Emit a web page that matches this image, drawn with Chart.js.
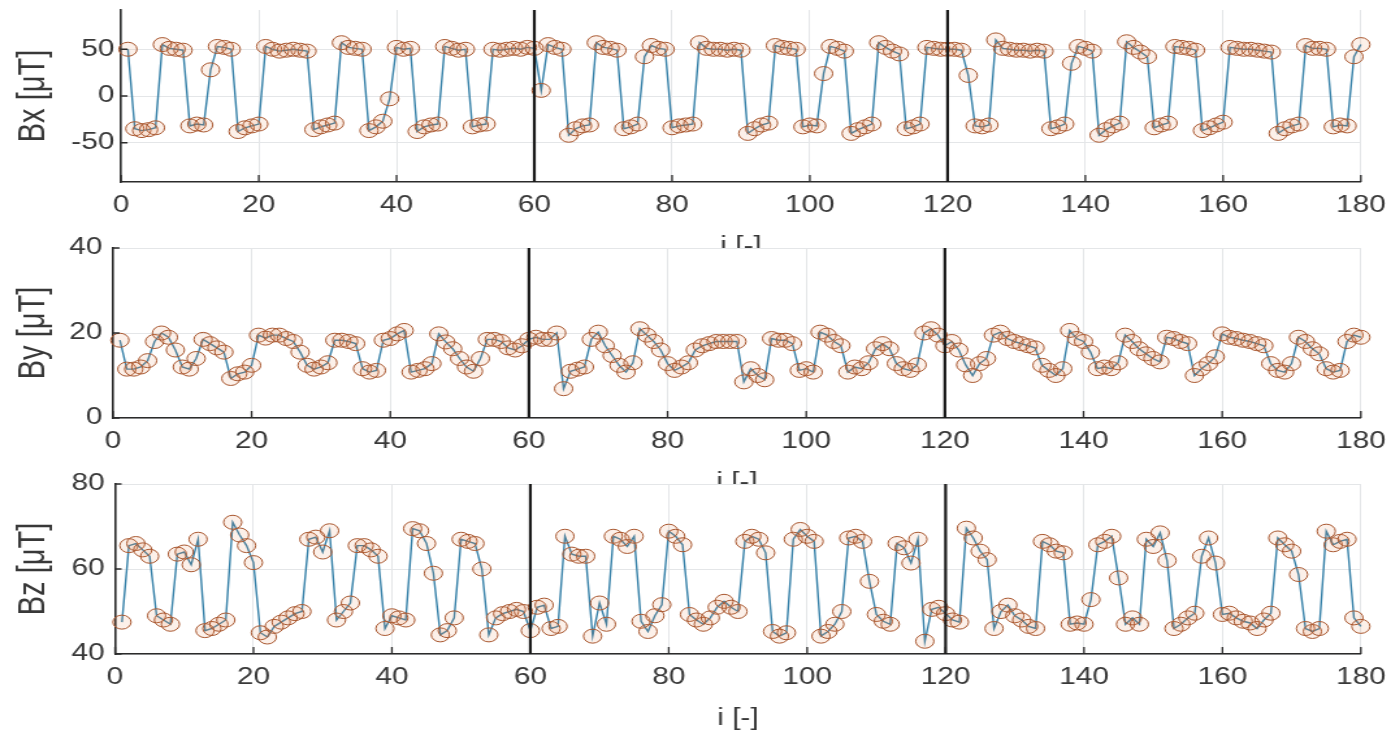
<!DOCTYPE html>
<html>
<head>
<meta charset="utf-8">
<script src="https://cdn.jsdelivr.net/npm/chart.js@4.4.1/dist/chart.umd.min.js"></script>
<style>
  html, body { margin: 0; background: #fff; overflow: hidden; }
  body { width: 1399px; height: 735px; position: relative; }
  .panel { position: absolute; left: 0; width: 1076px; transform: scaleX(1.3); transform-origin: 0 0; }
</style>
</head>
<body>
<div class="panel" style="top:-14px;height:277px"><canvas id="bxChart"></canvas></div>
<div class="panel" style="top:224px;height:275px"><canvas id="byChart"></canvas></div>
<div class="panel" style="top:460px;height:275px"><canvas id="bzChart"></canvas></div>
<script>
// measured field components per sample i = 1..180
const bxValues = [
  50,-35,-37,-36,-34,55,51,50,49,-32,
  -30,-31,28,53,52,50,-38,-34,-32,-30,
  53,50,48,49,50,49,48,-36,-33,-31,
  -29,57,52,51,50,-37,-33,-27,-3,52,
  50,51,-38,-33,-31,-30,53,51,49,50,
  -33,-31,-30,50,49,50,51,50,52,51,
  6,55,52,50,-42,-35,-32,-31,57,52,
  51,49,-35,-33,-30,42,54,51,50,-34,
  -32,-31,-30,57,51,50,50,49,50,49,
  -40,-35,-31,-29,54,52,51,50,-33,-31,
  -32,24,53,51,48,-40,-36,-33,-30,57,
  52,48,45,-35,-33,-30,52,51,50,50,
  50,49,22,-32,-33,-31,60,51,50,49,
  49,48,49,48,-35,-33,-30,35,53,51,
  48,-42,-36,-32,-29,58,52,47,42,-34,
  -31,-29,53,52,51,49,-37,-34,-31,-28,
  52,51,50,50,49,48,47,-40,-35,-32,
  -30,54,51,51,50,-33,-31,-32,42,55
];
const byValues = [
  18.3,11.5,11.5,12,13.5,18,20,19,16,12,
  11.5,14,18.5,17.5,16.5,15.5,9.3,10.4,10.8,12.4,
  19.5,18.8,19.5,19.5,18.7,18,15.5,12.4,11.5,12,
  13,18.3,18.3,18,17.5,11.6,10.8,11.2,18.3,18.7,
  19.8,20.6,10.8,11.2,11.6,12.8,19.8,17.9,16.3,14,
  12,11,14,18.5,18.5,18,16.5,16,17,18.5,
  19,18.5,18.5,20,6.9,11,11.5,12,18.5,20.2,
  17,14.7,12.4,10.8,13,21,19.5,18,16,12.8,
  11.2,12,13,16,17,17.5,18,18,18,18,
  8.5,11.6,10,9,18.7,18.3,18.3,17.5,11.2,11.6,
  10.8,20.2,19.5,18,17,10.8,12,11.6,13,16.3,
  17.5,16.3,12.8,11.6,11.2,12.5,20,21,19.5,17,
  18,16,12.5,10,12.8,14,19.5,20.2,18.7,18,
  17.5,17,16.5,12.4,11.2,10,11.6,20.6,18.7,18,
  15.5,11.6,12,11.6,13,19.5,18,16.3,15.1,14,
  13.2,19,18.7,18,17.5,10,11.6,12.8,14.4,19.8,
  19,18.7,18.3,18,17.5,17,12.8,11.2,10.8,12.8,
  19,18,16.3,15.1,11.6,10.8,11.2,18,19.5,19
];
const bzValues = [
  47.5,65.5,66,64.5,63,49,48,47,63.5,64,
  61,67,45.5,46,47,48,71,68,65.5,61.5,
  45,44,46.5,47.5,48.5,49.5,50,67,67.5,64,
  69,48,50,52,65.5,65.5,64.5,63,46,49,
  48.5,48,69.5,69,66,59,44.5,45.5,48.5,67,
  66.5,66,60,44.5,48.5,49.5,50,50.5,50,45.5,
  51,51.5,46,46.5,67.7,63.5,63,63,44.2,52,
  47,67.7,67,65.3,67.7,47.7,45.3,49,51.6,68.9,
  67.7,65.7,49.3,48,47,48.5,51,52.4,51,50,
  66.5,67.7,67,63.8,45.3,44.2,45,67,69.3,67.7,
  66.5,44.2,45.3,47,50,67.3,67.7,66.5,57.1,49.3,
  47.7,47,66,65,61.4,67,43,50.5,51,49.5,
  48,47.5,69.6,67.3,64.2,62.2,46,50,51.5,49,
  48,46.5,46,66.5,65.7,64.2,63.8,47,47.3,47,
  52.8,65.7,66.5,67.7,57.9,47,48.5,47,67,65.3,
  68.5,62,46,47,48.5,49.6,63,67.3,61.4,49.3,
  49.6,48.5,47.7,47.3,46,48,49.6,67.3,65.7,64.2,
  58.7,46,45.3,46,68.9,65.7,66.5,67,48.5,46.5
];
const sampleIndex = bxValues.map((_, k) => k + 1);

const xTickValues = [0, 20, 40, 60, 80, 100, 120, 140, 160, 180];
const bxTickValues = [-50, 0, 50];
const byTickValues = [0, 20, 40];
const bzTickValues = [40, 60, 80];
const splitLines = [60, 120];

const axisColor = "#2b2b2b";
const textColor = "#383838";
const gridColor = "#e4e6e8";
const fontFamily = "'Liberation Sans', Arial, sans-serif";

const panelDecor = {
  id: "panelDecor",
  beforeDraw(chart) {
    const { ctx, chartArea: a } = chart;
    ctx.save();
    ctx.fillStyle = "#ffffff";
    ctx.fillRect(a.left, a.top, a.right - a.left, a.bottom - a.top);
    ctx.restore();
  },
  afterDatasetsDraw(chart) {
    const { ctx, chartArea: a, scales } = chart;
    const x = scales.x, y = scales.y;
    ctx.save();
    ctx.strokeStyle = axisColor;
    ctx.lineWidth = 1.3;
    ctx.beginPath();
    xTickValues.forEach((v) => {
      const px = x.getPixelForValue(v);
      ctx.moveTo(px, a.bottom);
      ctx.lineTo(px, a.bottom - 7);
    });
    y.ticks.forEach((t) => {
      const py = y.getPixelForValue(t.value);
      ctx.moveTo(a.left, py);
      ctx.lineTo(a.left + 5, py);
    });
    ctx.stroke();
    ctx.strokeStyle = "#1a1a1a";
    ctx.lineWidth = 2.2;
    ctx.beginPath();
    splitLines.forEach((v) => {
      const px = x.getPixelForValue(v);
      ctx.moveTo(px, a.top);
      ctx.lineTo(px, a.bottom);
    });
    ctx.stroke();
    ctx.restore();
  },
};

function makePanel(id, values, yMin, yMax, yTicks, yTitle, plotLeft, labelPad) {
  new Chart(document.getElementById(id), {
    type: "line",
    data: {
      datasets: [
        {
          data: sampleIndex.map((i, k) => ({ x: i, y: values[k] })),
          borderColor: "#3580a8",
          borderWidth: 1.4,
          pointRadius: 7,
          pointBorderColor: "#a9572f",
          pointBackgroundColor: "rgba(230, 130, 70, 0.12)",
          pointBorderWidth: 1,
          tension: 0,
          clip: false,
        },
      ],
    },
    options: {
      responsive: true,
      maintainAspectRatio: false,
      animation: false,
      events: [],
      layout: { padding: { left: 0, right: 23.7, top: 24, bottom: 0 } },
      plugins: { legend: { display: false }, tooltip: { enabled: false } },
      scales: {
        x: {
          type: "linear",
          min: 0,
          max: 180,
          afterBuildTicks: (s) => { s.ticks = xTickValues.map((v) => ({ value: v })); },
          afterFit: (s) => { s.height = 81; },
          grid: { color: gridColor, drawTicks: false },
          border: { color: axisColor, width: 1.6 },
          ticks: { font: { family: fontFamily, size: 23 }, color: textColor, padding: 10, maxRotation: 0, autoSkip: false },
          title: { display: true, text: "i [-]", font: { family: fontFamily, size: 23 }, color: textColor, padding: { top: 0, bottom: 3 } },
        },
        y: {
          min: yMin,
          max: yMax,
          afterBuildTicks: (s) => { s.ticks = yTicks.map((v) => ({ value: v })); },
          afterFit: (s) => { s.width = plotLeft; },
          grid: { color: gridColor, drawTicks: false },
          border: { color: axisColor, width: 1.6 },
          ticks: { font: { family: fontFamily, size: 23 }, color: textColor, padding: labelPad },
          title: { display: true, text: yTitle, font: { family: fontFamily, size: 29 }, color: textColor, padding: { top: 8.5, bottom: 0 } },
        },
      },
    },
    plugins: [panelDecor],
  });
}

makePanel("bxChart", bxValues, -92, 92, bxTickValues, "Bx [μT]", 93.1, 5);
makePanel("byChart", byValues, 0, 40, byTickValues, "By [μT]", 86.9, 8);
makePanel("bzChart", bzValues, 40, 80, bzTickValues, "Bz [μT]", 88.5, 8);
</script>
</body>
</html>
